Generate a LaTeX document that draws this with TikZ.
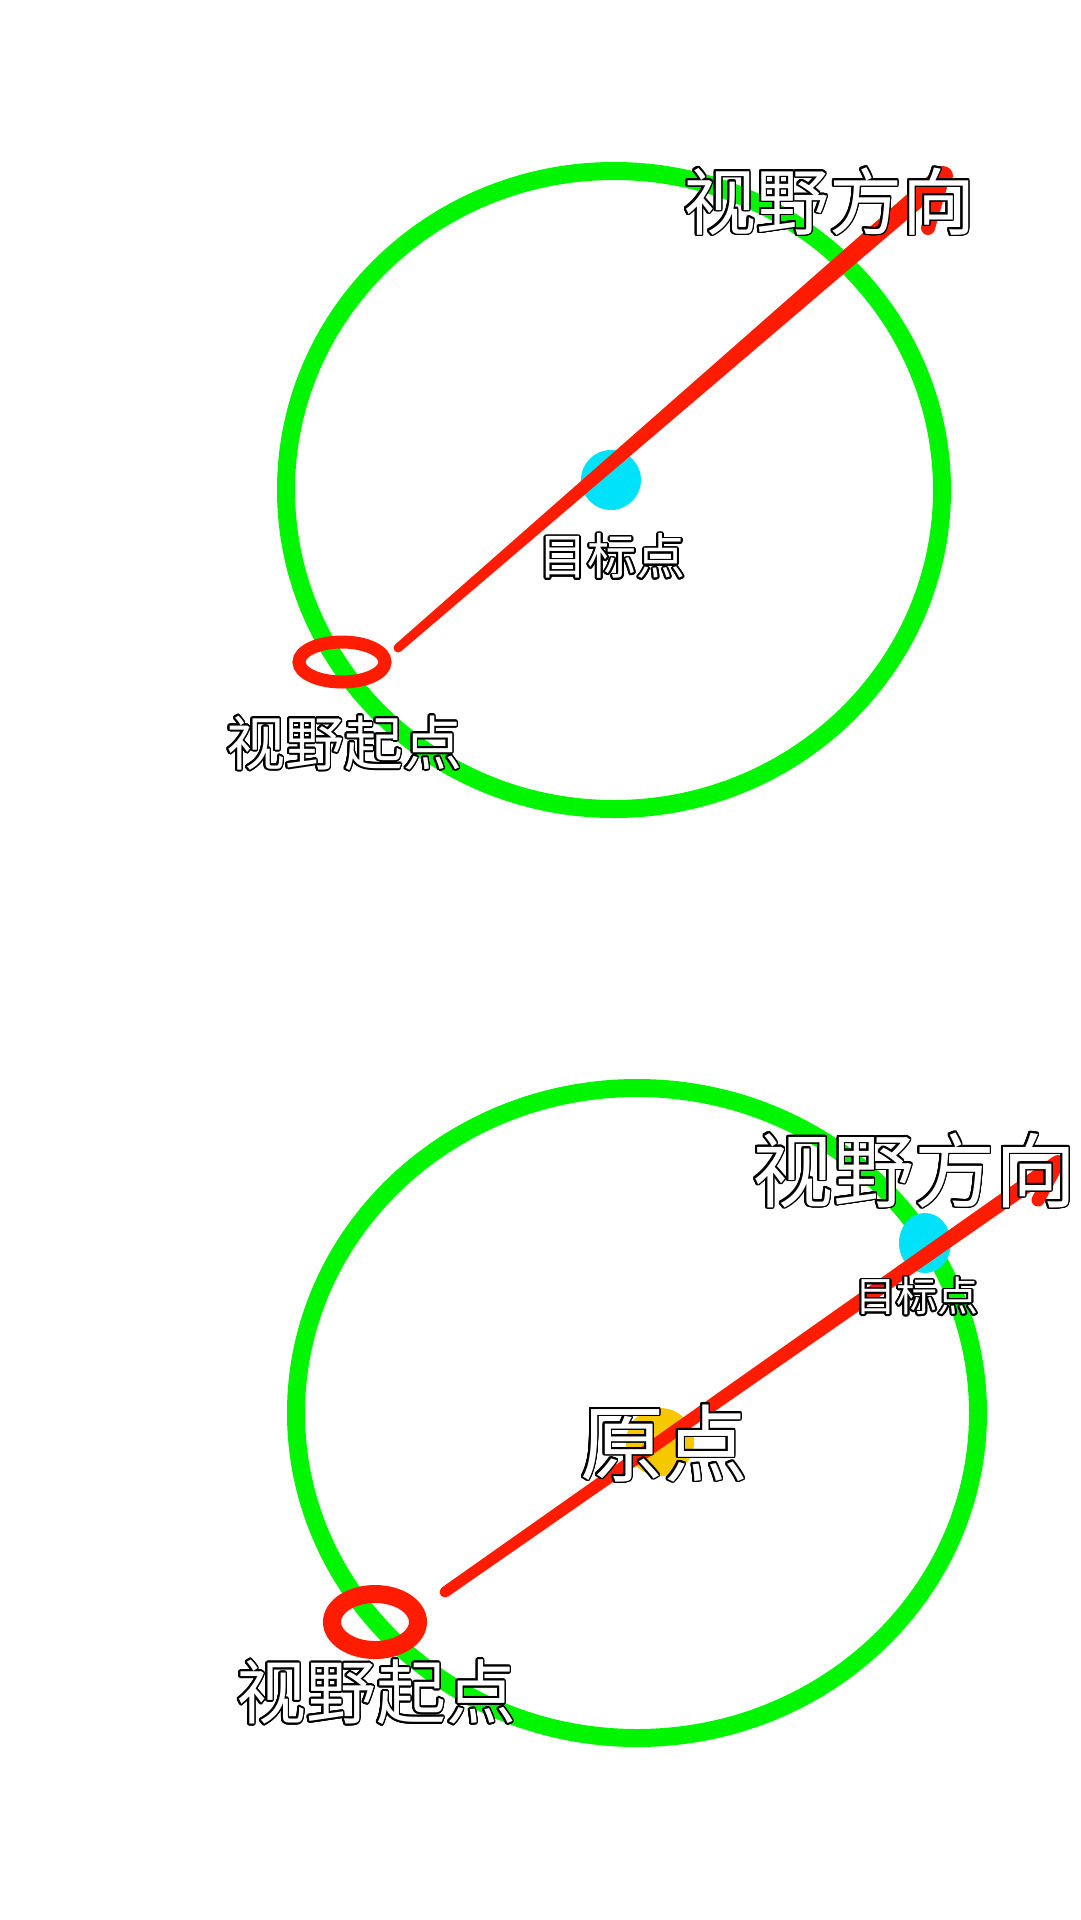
\documentclass[tikz,border=0pt]{standalone}
\usepackage{fontspec}
\usepackage{contour}
\usetikzlibrary{calc}
\newfontfamily\cjk{Noto Sans CJK SC}
\contourlength{1.7pt}
\contournumber{24}
\definecolor{ringgreen}{RGB}{0,245,0}
\definecolor{linered}{RGB}{255,28,0}
\definecolor{dotcyan}{RGB}{0,226,250}
\definecolor{dotyellow}{RGB}{246,200,0}
\tikzset{
  orbit/.style={draw=ringgreen, line width=18pt},
  startring/.style={draw=linered},
  lbl/.style={inner sep=0pt, text=white},
}
\newcommand\olabel[2]{{\cjk\fontsize{#1}{#1}\selectfont\contour{black}{#2}}}
\begin{document}
\begin{tikzpicture}[x=1pt,y=-1pt]
\useasboundingbox (0,0) rectangle (1080,1920);
\fill[white] (0,0) rectangle (1080,1920);

% ---------------- top diagram ----------------
\coordinate (tc) at (614,490);
\coordinate (ts) at (398,648);
\coordinate (te) at (943,176);
\coordinate (th) at (928,228);
\coordinate (tr) at (342,662);
\draw[orbit] (tc) ellipse [x radius=328pt, y radius=319pt];
\fill[dotcyan] (611,480) circle (30pt);
\fill[linered] ($(ts)!4.5pt!90:(te)$) -- ($(te)!10pt!-90:(ts)$) -- ($(te)!10pt!90:(ts)$) -- ($(ts)!4.5pt!-90:(te)$) -- cycle;
\fill[linered] (ts) circle (4.5pt);
\fill[linered] (te) circle (10pt);
\draw[linered, line width=14pt, line cap=round] (te) -- (th);
\draw[startring, line width=13pt] (tr) ellipse [x radius=43pt, y radius=20pt];
\node[lbl] (tdir) at (829,202) {\olabel{73pt}{视野方向}};
\node[lbl] (ttgt) at (612,557) {\olabel{49pt}{目标点}};
\node[lbl] (tstart) at (344,744) {\olabel{59pt}{视野起点}};

% ---------------- bottom diagram ----------------
\coordinate (bc) at (637,1413);
\coordinate (bs) at (445,1592);
\coordinate (be) at (1058,1163);
\coordinate (bh) at (1038,1200);
\coordinate (br) at (375,1622);
\draw[orbit] (bc) ellipse [x radius=341pt, y radius=325pt];
\fill[dotyellow] (660,1442) circle (34pt);
\fill[dotcyan] (925,1243) ellipse [x radius=26pt, y radius=30pt];
\fill[linered] ($(bs)!5.5pt!90:(be)$) -- ($(be)!8pt!-90:(bs)$) -- ($(be)!8pt!90:(bs)$) -- ($(bs)!5.5pt!-90:(be)$) -- cycle;
\fill[linered] (bs) circle (5.5pt);
\fill[linered] (be) circle (8pt);
\draw[linered, line width=13pt, line cap=round] (be) -- (bh);
\draw[startring, line width=18pt] (br) ellipse [x radius=43pt, y radius=28pt];
\node[lbl] (bdir) at (914,1171) {\olabel{81pt}{视野方向}};
\node[lbl] (btgt) at (917,1297) {\olabel{41pt}{目标点}};
\node[lbl] (borig) at (664,1444) {\olabel{84pt}{原点}};
\node[lbl] (bstart) at (376,1693) {\olabel{70pt}{视野起点}};
\end{tikzpicture}
\end{document}
